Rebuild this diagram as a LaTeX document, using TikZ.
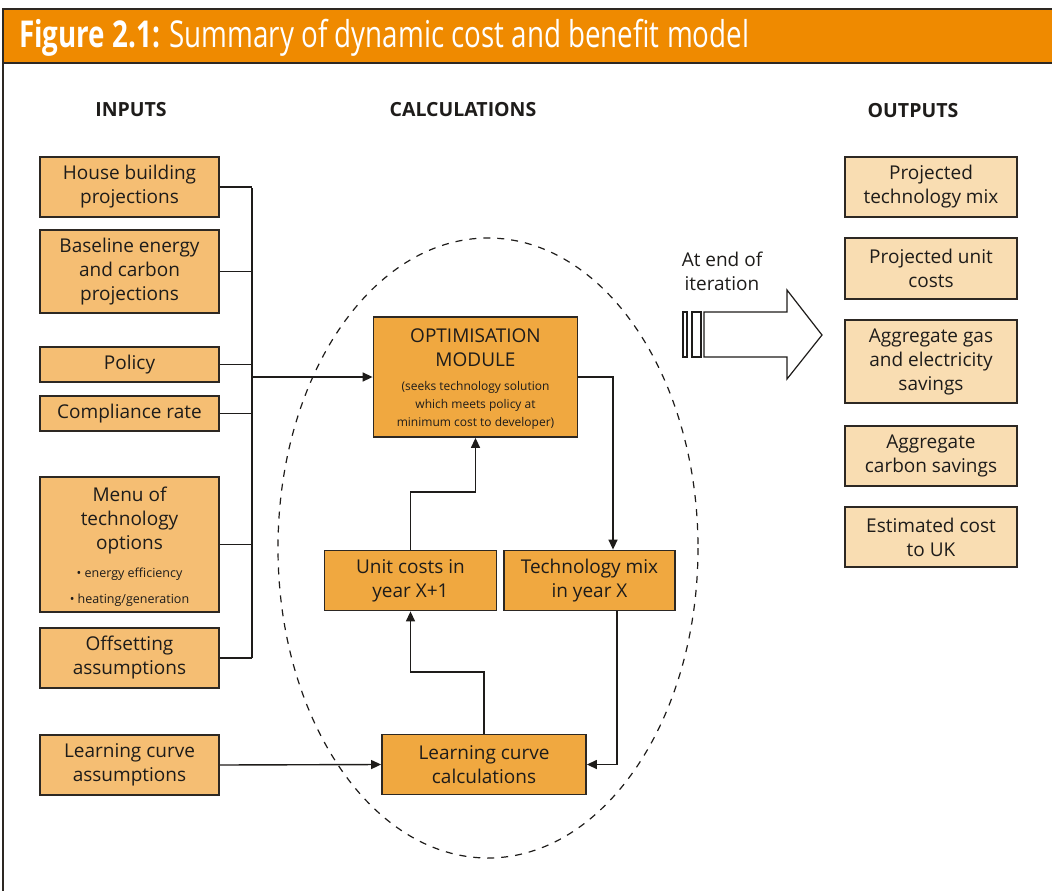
\documentclass[tikz,border=0pt]{standalone}
\usepackage{fontspec}
\setmainfont{Open Sans}
\newfontfamily\titlefont[FakeStretch=0.75]{Open Sans}
\usetikzlibrary{arrows.meta}
\definecolor{hdr}{RGB}{239,138,0}
\definecolor{inF}{RGB}{245,190,115}
\definecolor{calcF}{RGB}{240,168,64}
\definecolor{outF}{RGB}{249,221,178}
\definecolor{edge}{RGB}{45,40,35}
\definecolor{ink}{RGB}{30,28,26}
\begin{document}
\begin{tikzpicture}[x=1pt,y=-1pt,
  box/.style={draw=edge,line width=1.8pt,align=center,inner sep=0pt,
    font=\fontsize{19}{24}\selectfont,text=ink},
  inbox/.style={box,fill=inF,minimum width=179pt},
  calcbox/.style={box,fill=calcF},
  outbox/.style={box,fill=outF,minimum width=172pt},
  txt/.style={align=center,inner sep=0pt,font=\fontsize{19}{24}\selectfont,text=ink},
  small/.style={align=center,inner sep=0pt,font=\fontsize{12}{18}\selectfont,text=ink},
  head/.style={inner sep=0pt,font=\fontsize{19.5}{22}\selectfont\bfseries,text=ink},
  conn/.style={line width=1.4pt,draw=ink},
  arr/.style={conn,-{Triangle[length=10pt,width=9pt]}},
]
\useasboundingbox (0,0) rectangle (1052,891);
% header and frame
\fill[hdr] (3,9) rectangle (1052,63);
\draw[line width=2pt,draw=edge] (1052,9) -- (3,9) -- (3,891);
\draw[line width=2pt,draw=edge] (3,63) -- (1052,63);
\node[anchor=west,inner sep=0pt,text=white] (title) at (19,38)
  {\titlefont\fontsize{37}{42}\selectfont\textbf{Figure 2.1:} Summary of dynamic cost and benefit model};

% headings
\node[head] (hin) at (131,110) {INPUTS};
\node[head] (hcalc) at (463,110) {CALCULATIONS};
\node[head] (hout) at (913,111) {OUTPUTS};

% inputs
\node[inbox,minimum height=60pt] (hb) at (129.5,187) {House building\\projections};
\node[inbox,minimum height=83pt] (be) at (129.5,271.5) {Baseline energy\\and carbon\\projections};
\node[inbox,minimum height=35pt] (po) at (129.5,364.5) {Policy};
\node[inbox,minimum height=35pt] (cr) at (129.5,413.5) {Compliance rate};
\node[inbox,minimum height=135pt] (mt) at (129.5,544.5) {};
\node[txt] (mtt) at (129.5,521) {Menu of\\technology\\options};
\node[small,font=\fontsize{12.5}{26}\selectfont] (mtb) at (129.5,587) {• energy efficiency\\• heating/generation};
\node[inbox,minimum height=60pt] (of) at (129.5,658) {Offsetting\\assumptions};
\node[inbox,minimum height=60pt] (la) at (129.5,765) {Learning curve\\assumptions};

% calculations
\draw[dashed,dash pattern=on 7pt off 7pt,line width=1.2pt,draw=ink] (488,548) ellipse [x radius=210, y radius=310];
\node[calcbox,minimum width=204pt,minimum height=120pt] (om) at (475.5,377) {};
\node[txt] (omt) at (475.5,348) {OPTIMISATION\\MODULE};
\node[small] (oms) at (475.5,405) {(seeks technology solution\\which meets policy at\\minimum cost to developer)};
\node[calcbox,minimum width=172pt,minimum height=60pt] (uc) at (410.5,580.5) {Unit costs in\\year X+1};
\node[calcbox,minimum width=171pt,minimum height=60pt] (tm) at (589.5,580.5) {Technology mix\\in year X};
\node[calcbox,minimum width=204pt,minimum height=60pt] (lc) at (484,764.5) {Learning curve\\calculations};

% outputs
\node[outbox,minimum height=60pt] (o1) at (931,187) {Projected\\technology mix};
\node[outbox,minimum height=61pt] (o2) at (931,268.5) {Projected unit\\costs};
\node[outbox,minimum height=83pt] (o3) at (931,361.5) {Aggregate gas\\and electricity\\savings};
\node[outbox,minimum height=60pt] (o4) at (931,456) {Aggregate\\carbon savings};
\node[outbox,minimum height=60pt] (o5) at (931,537) {Estimated cost\\to UK};

% bus
\coordinate (bt) at (252,188);
\coordinate (bb) at (252,658);
\coordinate (bj) at (252,377);
\draw[conn] (bt) -- (bb);
\foreach \n in {hb,be,po,cr,mt,of} {\draw[conn] (\n.east) -- (\n.east -| bt);}
\draw[arr] (bj) -- (om.west);
\draw[arr] (om.east) -| ([xshift=23.5pt]tm.north);
\draw[arr] ([xshift=27.5pt]tm.south) |- (lc.east);
\draw[arr] (lc.north) -- ++(0,-61.5) -| (uc.south);
\draw[arr] (uc.north) -- ++(0,-57.5) -| (om.south);
\draw[arr] (la.east) -- (lc.west);

% iteration arrow
\node[txt] (iter) at (722,271) {At end of\\iteration};
\draw[line width=1.2pt,draw=ink,fill=white] (704,312) -- (787,312) -- (787,290) -- (822,335) -- (787,379) -- (787,357) -- (704,357) -- cycle;
\draw[line width=1.2pt,draw=ink] (683,312) rectangle (687,357);
\draw[line width=1.2pt,draw=ink] (692,312) rectangle (701,357);
\end{tikzpicture}
\end{document}
